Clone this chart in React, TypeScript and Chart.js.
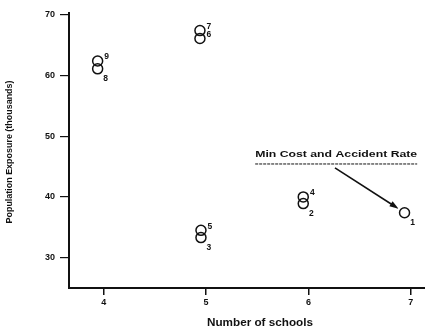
import React, { useEffect, useRef } from "react";
import { Chart, registerables } from "chart.js";

Chart.register(...registerables);

// ---- data ----
const pointIds = ["1", "2", "3", "4", "5", "6", "7", "8", "9"];
const schools = [6.94, 5.95, 4.95, 5.95, 4.95, 4.94, 4.94, 3.94, 3.94];
const exposure = [37.4, 38.9, 33.3, 40.0, 34.5, 66.1, 67.4, 61.1, 62.4];
const xTickValues = [4, 5, 6, 7];
const yTickValues = [30, 40, 50, 60, 70];
const xTitle = "Number of schools";
const yTitle = "Population Exposure (thousands)";
const noteText = "Min Cost and Accident Rate";
const noteTargetIndex = 0; // point "1"

// annotation placement (data units)
const noteAnchor = { x: 5.48, y: 46.5 };
const arrowStart = { x: 6.26, y: 44.8 };

const INK = "#111";
const FONT = "'Liberation Sans', Arial, sans-serif";

function drawFitted(ctx: CanvasRenderingContext2D, text: string, x: number, y: number, width: number) {
  const w = ctx.measureText(text).width;
  ctx.save();
  ctx.translate(x, y);
  ctx.scale(width / w, 1);
  ctx.fillText(text, 0, 0);
  ctx.restore();
}

const overlayPlugin = {
  id: "overlay",
  afterDatasetsDraw(chart: any) {
    const ctx: CanvasRenderingContext2D = chart.ctx;
    const xs = chart.scales.x;
    const ys = chart.scales.y;
    ctx.save();
    ctx.fillStyle = INK;
    ctx.strokeStyle = INK;

    // point number labels
    ctx.font = `bold 8.5px ${FONT}`;
    ctx.textAlign = "center";
    ctx.textBaseline = "middle";
    pointIds.forEach((id, i) => {
      const px = xs.getPixelForValue(schools[i]);
      const py = ys.getPixelForValue(exposure[i]);
      const hasLowerPartner = schools.some(
        (s, j) => j !== i && Math.abs(s - schools[i]) < 0.05 && exposure[j] < exposure[i]
      );
      if (hasLowerPartner) ctx.fillText(id, px + 9, py - 4);
      else ctx.fillText(id, px + 8, py + 10);
    });

    // axis titles
    ctx.font = `bold 9px ${FONT}`;
    ctx.textAlign = "left";
    ctx.textBaseline = "middle";
    ctx.save();
    ctx.translate(10, 152);
    ctx.rotate(-Math.PI / 2);
    drawFitted(ctx, yTitle, -143 / 2, 0, 143);
    ctx.restore();

    ctx.font = `bold 10px ${FONT}`;
    drawFitted(ctx, xTitle, 260 - 53, 323, 106);

    // annotation
    const nx = xs.getPixelForValue(noteAnchor.x);
    const ny = ys.getPixelForValue(noteAnchor.y);
    ctx.font = `bold 9px ${FONT}`;
    ctx.textBaseline = "alphabetic";
    drawFitted(ctx, noteText, nx, ny, 162);
    ctx.lineWidth = 1;
    ctx.setLineDash([3, 1]);
    ctx.beginPath();
    ctx.moveTo(nx, ny + 6.5);
    ctx.lineTo(nx + 162, ny + 6.5);
    ctx.stroke();
    ctx.setLineDash([]);

    const ax = xs.getPixelForValue(arrowStart.x);
    const ay = ys.getPixelForValue(arrowStart.y);
    const tx = xs.getPixelForValue(schools[noteTargetIndex]) - 6;
    const ty = ys.getPixelForValue(exposure[noteTargetIndex]) - 4;
    const ang = Math.atan2(ty - ay, tx - ax);
    ctx.lineWidth = 1.6;
    ctx.beginPath();
    ctx.moveTo(ax, ay);
    ctx.lineTo(tx - 6 * Math.cos(ang), ty - 6 * Math.sin(ang));
    ctx.stroke();
    ctx.beginPath();
    ctx.moveTo(tx, ty);
    ctx.lineTo(tx - 9 * Math.cos(ang) + 3 * Math.sin(ang), ty - 9 * Math.sin(ang) - 3 * Math.cos(ang));
    ctx.lineTo(tx - 9 * Math.cos(ang) - 3 * Math.sin(ang), ty - 9 * Math.sin(ang) + 3 * Math.cos(ang));
    ctx.closePath();
    ctx.fill();

    ctx.restore();
  },
};

export default function App() {
  const ref = useRef<HTMLCanvasElement | null>(null);

  useEffect(() => {
    if (!ref.current) return;
    const chart = new Chart(ref.current, {
      type: "scatter",
      data: {
        datasets: [
          {
            data: schools.map((s, i) => ({ x: s, y: exposure[i] })),
            pointRadius: 5,
            pointHoverRadius: 5,
            pointBorderWidth: 1.5,
            borderColor: INK,
            backgroundColor: "rgba(0,0,0,0)",
            showLine: false,
            clip: false,
          },
        ],
      },
      options: {
        responsive: false,
        animation: false,
        events: [],
        layout: { autoPadding: false, padding: { top: 13, right: 0, left: 0, bottom: 0 } },
        plugins: { legend: { display: false }, tooltip: { enabled: false } },
        scales: {
          x: {
            type: "linear",
            min: 3.66,
            max: 7.14,
            afterFit: (s: any) => {
              s.height = 41;
              s.paddingLeft = 0;
              s.paddingRight = 0;
            },
            afterBuildTicks: (s: any) => {
              s.ticks = xTickValues.map((v) => ({ value: v }));
            },
            border: { display: true, color: INK, width: 2 },
            grid: { drawOnChartArea: false, drawTicks: true, tickLength: 7, color: INK, lineWidth: 1.5 },
            ticks: { color: INK, font: { family: FONT, size: 9, weight: "bold" }, padding: 2 },
          },
          y: {
            type: "linear",
            min: 25,
            max: 70.3,
            afterFit: (s: any) => {
              s.width = 69;
              s.paddingTop = 0;
              s.paddingBottom = 0;
            },
            afterBuildTicks: (s: any) => {
              s.ticks = yTickValues.map((v) => ({ value: v }));
            },
            border: { display: true, color: INK, width: 2 },
            grid: { drawOnChartArea: false, drawTicks: true, tickLength: 9, color: INK, lineWidth: 1.2 },
            ticks: { color: INK, font: { family: FONT, size: 9, weight: "bold" }, padding: 5 },
          },
        },
      },
      plugins: [overlayPlugin],
    } as any);
    return () => chart.destroy();
  }, []);

  return (
    <div style={{ position: "fixed", left: 0, top: 0, width: 425, height: 329, background: "#fff" }}>
      <canvas ref={ref} width={425} height={329} style={{ display: "block", width: 425, height: 329 }} />
    </div>
  );
}
